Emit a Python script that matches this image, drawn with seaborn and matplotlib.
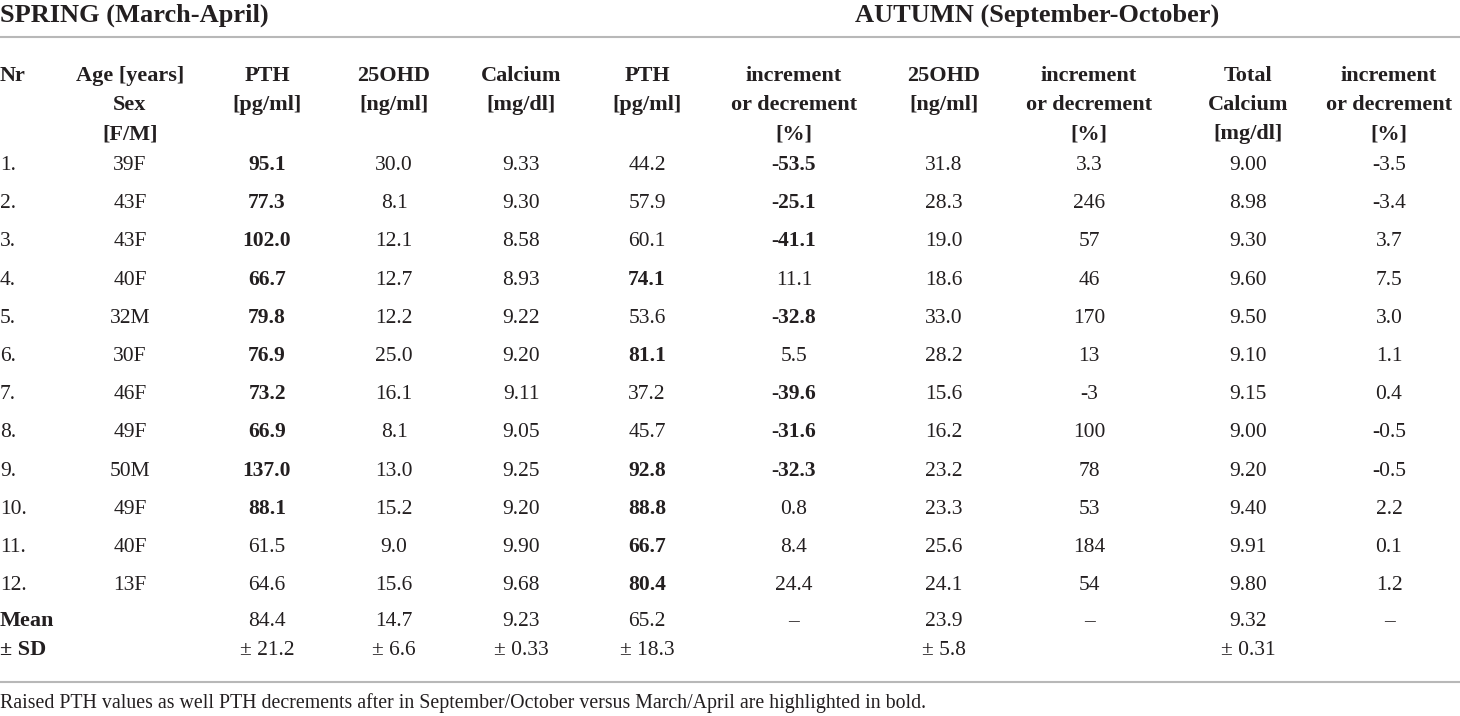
import matplotlib
matplotlib.use("Agg")
import matplotlib.pyplot as plt
import seaborn as sns

# ---- table data ----
nr = ["1.", "2.", "3.", "4.", "5.", "6.", "7.", "8.", "9.", "10.", "11.", "12."]
age_sex = ["39F", "43F", "43F", "40F", "32M", "30F", "46F", "49F", "50M", "49F", "40F", "13F"]
pth_spring = ["95.1", "77.3", "102.0", "66.7", "79.8", "76.9", "73.2", "66.9", "137.0", "88.1", "61.5", "64.6"]
ohd_spring = ["30.0", "8.1", "12.1", "12.7", "12.2", "25.0", "16.1", "8.1", "13.0", "15.2", "9.0", "15.6"]
ca_spring = ["9.33", "9.30", "8.58", "8.93", "9.22", "9.20", "9.11", "9.05", "9.25", "9.20", "9.90", "9.68"]
pth_autumn = ["44.2", "57.9", "60.1", "74.1", "53.6", "81.1", "37.2", "45.7", "92.8", "88.8", "66.7", "80.4"]
pth_change = ["-53.5", "-25.1", "-41.1", "11.1", "-32.8", "5.5", "-39.6", "-31.6", "-32.3", "0.8", "8.4", "24.4"]
ohd_autumn = ["31.8", "28.3", "19.0", "18.6", "33.0", "28.2", "15.6", "16.2", "23.2", "23.3", "25.6", "24.1"]
ohd_change = ["3.3", "246", "57", "46", "170", "13", "-3", "100", "78", "53", "184", "54"]
ca_autumn = ["9.00", "8.98", "9.30", "9.60", "9.50", "9.10", "9.15", "9.00", "9.20", "9.40", "9.91", "9.80"]
ca_change = ["-3.5", "-3.4", "3.7", "7.5", "3.0", "1.1", "0.4", "-0.5", "-0.5", "2.2", "0.1", "1.2"]

means = ["", "", "84.4", "14.7", "9.23", "65.2", "\u2013", "23.9", "\u2013", "9.32", "\u2013"]
sds = ["", "", "\u00b1 21.2", "\u00b1 6.6", "\u00b1 0.33", "\u00b1 18.3", "", "\u00b1 5.8", "", "\u00b1 0.31", ""]

headers = [
    ["Nr"],
    ["Age [years]", "Sex", "[F/M]"],
    ["PTH", "[pg/ml]"],
    ["25OHD", "[ng/ml]"],
    ["Calcium", "[mg/dl]"],
    ["PTH", "[pg/ml]"],
    ["increment", "or decrement", "[%]"],
    ["25OHD", "[ng/ml]"],
    ["increment", "or decrement", "[%]"],
    ["Total", "Calcium", "[mg/dl]"],
    ["increment", "or decrement", "[%]"],
]
columns = [nr, age_sex, pth_spring, ohd_spring, ca_spring, pth_autumn,
           pth_change, ohd_autumn, ohd_change, ca_autumn, ca_change]

# highlighting rules from the footnote
PTH_LIMIT = 65.0
raised_cols = {2, 5}
decrement_cols = {6}

footnote = ("Raised PTH values as well PTH decrements after in September/October "
            "versus March/April are highlighted in bold.")

# ---- layout ----
col_x = [0, 130, 267, 394, 521, 647, 794, 944, 1089, 1248, 1389]
row0, row_step = 163, 38.2
header_y = [74, 103, 132]
mean_y, sd_y = 619, 648
base = 7  # centre -> baseline offset in px
ink = "#231f20"
rule = "#b8b8b8"

sns.set_theme(style="white")
plt.rcParams["font.family"] = ["Liberation Serif", "DejaVu Serif"]

fig = plt.figure(figsize=(14.6, 7.16), dpi=100)
ax = fig.add_axes([0, 0, 1, 1])
ax.set_xlim(0, 1460)
ax.set_ylim(716, 0)
ax.axis("off")

fs = 15.5
fs_head = 16


def cell(x, y, s, size=fs, bold=False, ha="center", off=base):
    ax.text(x, y + off, s, fontsize=size, fontweight="bold" if bold else "normal",
            color=ink, ha=ha, va="baseline")


cell(0, 13, "SPRING (March-April)", size=19, bold=True, ha="left", off=9)
cell(1037, 13, "AUTUMN (September-October)", size=19, bold=True, off=9)
ax.axhline(37, color=rule, lw=1.5)
ax.axhline(682, color=rule, lw=1.5)

for ci, (x, head, vals) in enumerate(zip(col_x, headers, columns)):
    ha = "left" if ci == 0 else "center"
    for li, line in enumerate(head):
        cell(x, header_y[li], line, size=fs_head, bold=True, ha=ha)
    for ri, v in enumerate(vals):
        bold = (ci in raised_cols and float(v) > PTH_LIMIT) or \
               (ci in decrement_cols and float(v) < 0)
        cell(x, row0 + ri * row_step, v, bold=bold, ha=ha)
    if ci == 0:
        cell(x, mean_y, "Mean", size=fs_head, bold=True, ha="left")
        cell(x, sd_y, "\u00b1 SD", size=fs_head, bold=True, ha="left")
    else:
        cell(x, mean_y, means[ci])
        cell(x, sd_y, sds[ci])

cell(0, 702, footnote, size=14.3, ha="left", off=6)

fig.savefig("out.png", dpi=100)
